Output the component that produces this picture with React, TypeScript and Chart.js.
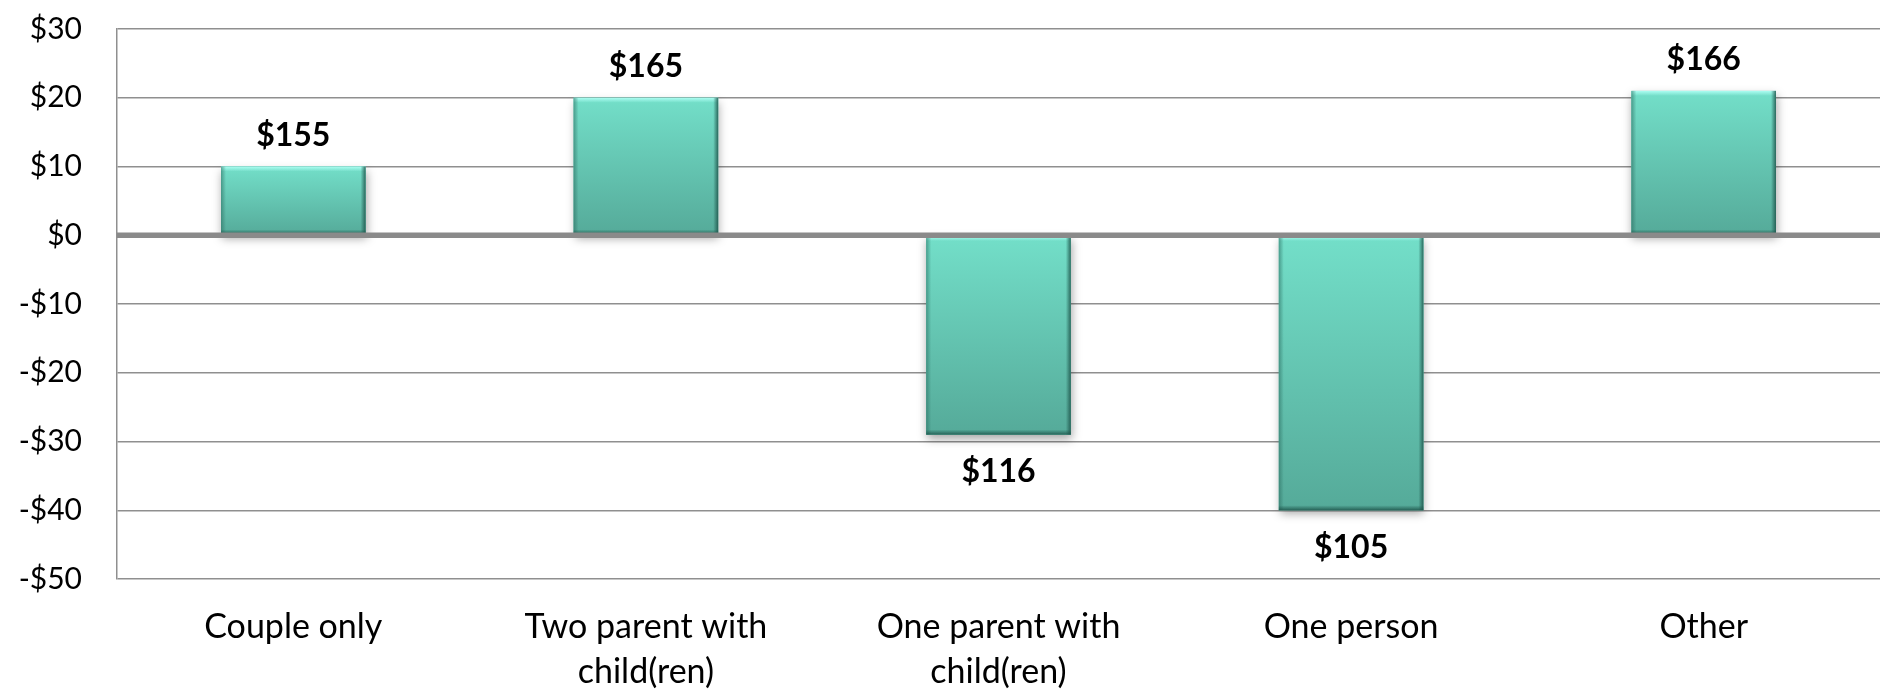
import React, { useEffect, useRef } from "react";
import { Chart, registerables } from "chart.js";

Chart.register(...registerables);

const categories: string[][] = [
  ["Couple only"],
  ["Two parent with", "child(ren)"],
  ["One parent with", "child(ren)"],
  ["One person"],
  ["Other"],
];
const values: number[] = [10, 20, -29, -40, 21];
const dataLabels: string[] = ["$155", "$165", "$116", "$105", "$166"];
const yMin = -50;
const yMax = 30;
const yStep = 10;

const fmtTick = (v: number) => (v < 0 ? `-$${Math.abs(v)}` : `$${v}`);

const barFx = {
  id: "barFx",
  beforeDatasetsDraw(chart: any) {
    const ctx = chart.ctx;
    const meta = chart.getDatasetMeta(0);
    ctx.save();
    meta.data.forEach((el: any) => {
      const { x, y, base, width } = el.getProps(["x", "y", "base", "width"], true);
      const top = Math.min(y, base);
      const h = Math.abs(base - y);
      ctx.shadowColor = "rgba(0,0,0,0.35)";
      ctx.shadowBlur = 9;
      ctx.shadowOffsetX = 1;
      ctx.shadowOffsetY = 4;
      ctx.fillStyle = "#5fb8a7";
      ctx.fillRect(x - width / 2, top, width, h);
    });
    ctx.restore();
  },
  afterDatasetsDraw(chart: any) {
    const ctx = chart.ctx;
    const meta = chart.getDatasetMeta(0);
    const ys = chart.scales.y;
    const area = chart.chartArea;
    ctx.save();
    meta.data.forEach((el: any) => {
      const { x, y, base, width } = el.getProps(["x", "y", "base", "width"], true);
      const l = x - width / 2;
      const r = x + width / 2;
      const t = Math.min(y, base);
      const b = Math.max(y, base);
      const bw = 5;
      let g = ctx.createLinearGradient(0, t, 0, t + bw);
      g.addColorStop(0, "rgba(175,255,244,0.95)");
      g.addColorStop(1, "rgba(175,255,244,0)");
      ctx.fillStyle = g;
      ctx.fillRect(l, t, width, bw);
      g = ctx.createLinearGradient(l, 0, l + bw, 0);
      g.addColorStop(0, "rgba(40,105,93,0.55)");
      g.addColorStop(1, "rgba(40,105,93,0)");
      ctx.fillStyle = g;
      ctx.fillRect(l, t, bw, b - t);
      g = ctx.createLinearGradient(r, 0, r - bw, 0);
      g.addColorStop(0, "rgba(30,85,75,0.85)");
      g.addColorStop(1, "rgba(30,85,75,0)");
      ctx.fillStyle = g;
      ctx.fillRect(r - bw, t, bw, b - t);
      g = ctx.createLinearGradient(0, b, 0, b - bw);
      g.addColorStop(0, "rgba(30,85,75,0.85)");
      g.addColorStop(1, "rgba(30,85,75,0)");
      ctx.fillStyle = g;
      ctx.fillRect(l, b - bw, width, bw);
    });
    const y0 = ys.getPixelForValue(0);
    ctx.strokeStyle = "#8a8a8a";
    ctx.lineWidth = 5.5;
    ctx.beginPath();
    ctx.moveTo(area.left, y0);
    ctx.lineTo(area.right, y0);
    ctx.stroke();
    ctx.font = "bold 32px Lato";
    ctx.fillStyle = "#000";
    ctx.textAlign = "center";
    ctx.textBaseline = "middle";
    meta.data.forEach((el: any, i: number) => {
      const { x, y, base } = el.getProps(["x", "y", "base"], true);
      const v = values[i];
      const ly = v >= 0 ? Math.min(y, base) - 31 : Math.max(y, base) + 37;
      ctx.fillText(dataLabels[i], x, ly);
    });
    ctx.restore();
  },
};

export default function App() {
  const ref = useRef<HTMLCanvasElement>(null);
  useEffect(() => {
    if (!ref.current) return;
    const chart = new Chart(ref.current, {
      type: "bar",
      data: {
        labels: categories,
        datasets: [
          {
            data: values,
            borderWidth: 0,
            barPercentage: 0.41,
            categoryPercentage: 1,
            backgroundColor: (c: any) => {
              const ch = c.chart;
              const ys = ch.scales && ch.scales.y;
              if (!ys || c.dataIndex === undefined) return "#62c8b5";
              const v = values[c.dataIndex];
              const p1 = ys.getPixelForValue(v);
              const p0 = ys.getPixelForValue(0);
              const top = Math.min(p1, p0);
              const bot = Math.max(p1, p0);
              if (!isFinite(top) || !isFinite(bot) || top === bot) return "#62c8b5";
              const g = ch.ctx.createLinearGradient(0, top, 0, bot);
              g.addColorStop(0, "#73dfc9");
              g.addColorStop(1, "#55aa99");
              return g;
            },
          },
        ],
      },
      options: {
        animation: false,
        responsive: true,
        maintainAspectRatio: false,
        layout: { padding: { top: 29, left: 0, right: 0, bottom: 0 } },
        plugins: {
          legend: { display: false },
          tooltip: { enabled: false },
          title: { display: false },
        },
        scales: {
          x: {
            grid: { display: false },
            border: { display: false },
            ticks: {
              color: "#000",
              padding: 18,
              maxRotation: 0,
              autoSkip: false,
              font: { family: "Lato", size: 34, lineHeight: 45 / 34 },
            },
            afterFit: (s: any) => {
              s.height = 111;
            },
          },
          y: {
            min: yMin,
            max: yMax,
            grid: {
              color: "#8f8f8f",
              lineWidth: 1.5,
              drawTicks: false,
            },
            border: { display: true, color: "#8f8f8f", width: 1.5 },
            ticks: {
              stepSize: yStep,
              color: "#000",
              padding: 35,
              font: { family: "Lato", size: 30 },
              callback: (v: any) => fmtTick(Number(v)),
            },
            afterFit: (s: any) => {
              s.width = 117;
              s.paddingTop = 0;
              s.paddingBottom = 0;
            },
          },
        },
      },
      plugins: [barFx],
    });
    return () => chart.destroy();
  }, []);
  return (
    <div style={{ position: "fixed", left: 0, top: 0, width: 1880, height: 690, background: "#fff" }}>
      <canvas ref={ref} />
    </div>
  );
}
